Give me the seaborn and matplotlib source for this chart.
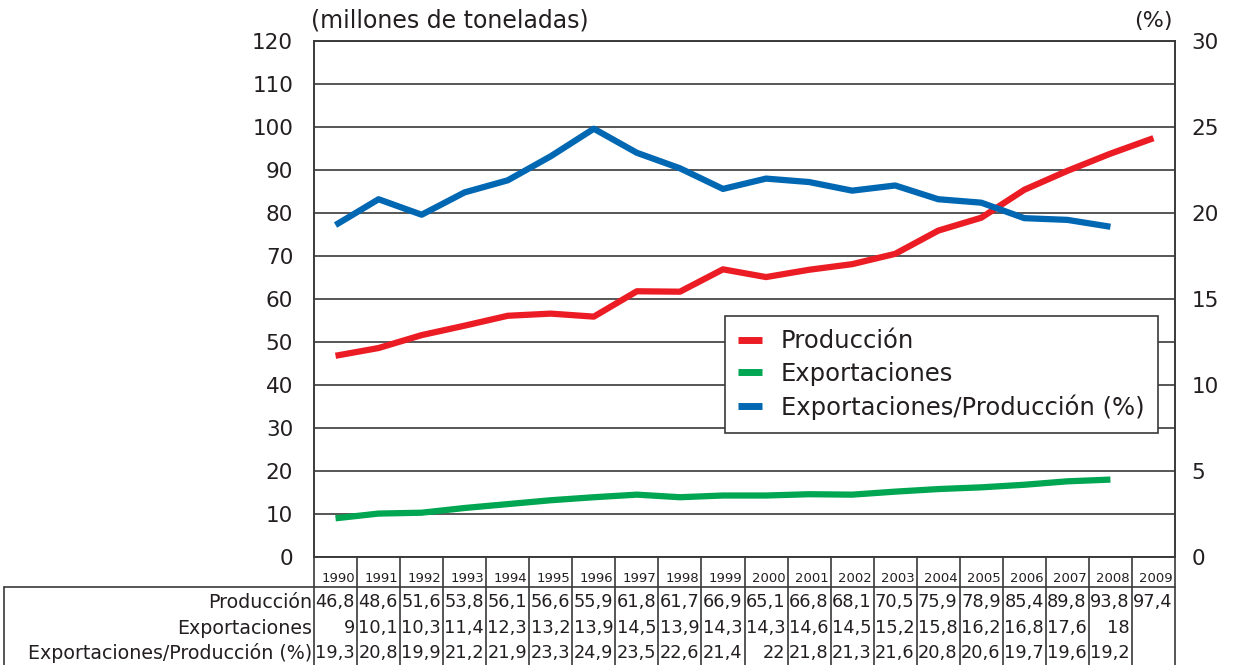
import numpy as np
import pandas as pd
import seaborn as sns
import matplotlib.pyplot as plt
from matplotlib.lines import Line2D
from matplotlib.transforms import blended_transform_factory

years = list(range(1990, 2010))
produccion = [46.8, 48.6, 51.6, 53.8, 56.1, 56.6, 55.9, 61.8, 61.7, 66.9,
              65.1, 66.8, 68.1, 70.5, 75.9, 78.9, 85.4, 89.8, 93.8, 97.4]
exportaciones = [9, 10.1, 10.3, 11.4, 12.3, 13.2, 13.9, 14.5, 13.9, 14.3,
                 14.3, 14.6, 14.5, 15.2, 15.8, 16.2, 16.8, 17.6, 18, np.nan]
ratio = [19.3, 20.8, 19.9, 21.2, 21.9, 23.3, 24.9, 23.5, 22.6, 21.4,
         22, 21.8, 21.3, 21.6, 20.8, 20.6, 19.7, 19.6, 19.2, np.nan]
row_labels = ["Producción", "Exportaciones", "Exportaciones/Producción (%)"]

c_red = "#ec1c24"
c_green = "#00a651"
c_blue = "#0067b3"
grid_c = "#3a3a3a"
txt_c = "#231f20"

df = pd.DataFrame({"year": years, "prod": produccion, "exp": exportaciones, "ratio": ratio})

sns.set_style("white")
plt.rcParams['font.family'] = ['DejaVu Sans']
plt.rcParams['text.color'] = txt_c

fig = plt.figure(figsize=(12.33, 6.65), dpi=100)
W, H = 1233, 665
L, R, T, B = 314, 1175, 41, 557
ax = fig.add_axes([L / W, 1 - B / H, (R - L) / W, (B - T) / H])
ax2 = ax.twinx()

sns.lineplot(data=df.dropna(subset=["prod"]), x="year", y="prod", ax=ax,
             color=c_red, lw=4.5, solid_capstyle="butt")
sns.lineplot(data=df.dropna(subset=["exp"]), x="year", y="exp", ax=ax,
             color=c_green, lw=4.5, solid_capstyle="butt")
sns.lineplot(data=df.dropna(subset=["ratio"]), x="year", y="ratio", ax=ax2,
             color=c_blue, lw=4.5, solid_capstyle="butt")

ax.set_xlim(1989.5, 2009.5)
ax.set_ylim(0, 120)
ax2.set_ylim(0, 30)
ax.set_yticks(range(0, 121, 10))
ax2.set_yticks(range(0, 31, 5))
ax.set_xticks([])
ax2.set_xticks([])
ax.set_xlabel("")
ax.set_ylabel("")
ax2.set_xlabel("")
ax2.set_ylabel("")
for a in (ax, ax2):
    a.tick_params(axis="y", length=0, labelsize=15.5, labelcolor=txt_c)
    for s in a.spines.values():
        s.set_color(grid_c)
        s.set_linewidth(1.2)
ax.tick_params(axis="y", pad=15)
ax2.tick_params(axis="y", pad=12)
ax.yaxis.grid(True, color=grid_c, lw=1.2)
ax.set_axisbelow(True)

ax.annotate("(millones de toneladas)", xy=(0, 1), xycoords="axes fraction",
            xytext=(-2, 6), textcoords="offset points", ha="left", va="bottom",
            fontsize=17)
ax.annotate("(%)", xy=(1, 1), xycoords="axes fraction",
            xytext=(-2, 7), textcoords="offset points", ha="right", va="bottom",
            fontsize=16)

handles = [Line2D([], [], color=c, lw=5, solid_capstyle="butt") for c in (c_red, c_green, c_blue)]
leg = ax2.legend(handles, ["Producción", "Exportaciones", "Exportaciones/Producción (%)"],
                 loc="upper left", bbox_to_anchor=(0.477, 0.467), borderaxespad=0,
                 fontsize=17.5, frameon=True, fancybox=False, framealpha=1,
                 handlelength=1.0, handletextpad=0.75, labelspacing=0.35,
                 borderpad=0.55)
leg.get_frame().set_edgecolor(grid_c)
leg.get_frame().set_linewidth(1.2)

# tabla de datos bajo el grafico
tr = blended_transform_factory(ax.transData, fig.transFigure)
fy = lambda px: 1 - px / H


def fmt(v):
    if v != v:
        return ""
    if float(v).is_integer():
        return str(int(v))
    return f"{v:.1f}".replace(".", ",")


year_top, year_bot = 557, 587
row_y = [602, 628, 653]
for i, yr in enumerate(years):
    edge = yr + 0.5
    ax.add_line(Line2D([edge, edge], [fy(year_top), fy(H + 5)], transform=tr,
                       color=grid_c, lw=1.2, clip_on=False))
    ax.text(yr + 0.45, fy(578), str(yr), transform=tr, ha="right", va="center",
            fontsize=9.5, clip_on=False)
    for vals, ry in zip((produccion, exportaciones, ratio), row_y):
        ax.text(yr + 0.45, fy(ry), fmt(vals[i]), transform=tr, ha="right",
                va="center", fontsize=12.8, clip_on=False)

ax.add_line(Line2D([1989.5, 1989.5], [fy(year_top), fy(H + 5)], transform=tr,
                   color=grid_c, lw=1.2, clip_on=False))
fig.add_artist(Line2D([4 / W, R / W], [fy(year_bot), fy(year_bot)],
                      transform=fig.transFigure, color=grid_c, lw=1.2))
fig.add_artist(Line2D([4 / W, 4 / W], [fy(year_bot), fy(H + 5)],
                      transform=fig.transFigure, color=grid_c, lw=1.2))
for lab, ry in zip(row_labels, row_y):
    ax.text(1989.5 - 0.05, fy(ry), lab, transform=tr, ha="right", va="center",
            fontsize=13.7, clip_on=False)

fig.savefig("out.png", dpi=100)
